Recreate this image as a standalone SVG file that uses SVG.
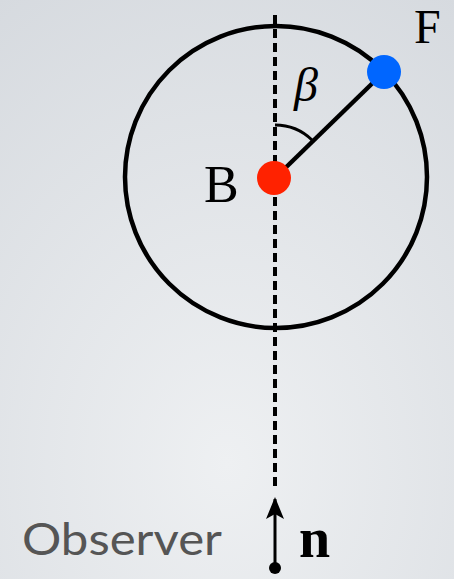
<svg xmlns="http://www.w3.org/2000/svg" width="454" height="579" viewBox="0 0 454 579">
<defs>
<radialGradient id="bg" cx="0.5" cy="0.8" r="0.95">
<stop offset="0" stop-color="#eef0f2"/>
<stop offset="1" stop-color="#d6dadf"/>
</radialGradient>
<marker id="arr" viewBox="0 0 22 18" refX="20" refY="9" markerWidth="22" markerHeight="18" markerUnits="userSpaceOnUse" orient="auto">
<path d="M0,0 L22,9 L0,18 L5,9 Z" fill="#000"/>
</marker>
<style>
.serif{font-family:"Liberation Serif","Times New Roman",serif;fill:#000}
.ln{stroke:#000;fill:none}
</style>
</defs>
<rect width="454" height="579" fill="url(#bg)"/>
<g id="connectors">
<line class="ln" x1="275" y1="15" x2="275" y2="488" stroke-width="4" stroke-dasharray="9,5"/>
<line class="ln" x1="275" y1="566" x2="275" y2="499" stroke-width="3" marker-end="url(#arr)"/>
<line class="ln" x1="275" y1="178" x2="384" y2="72" stroke-width="4.5"/>
<path class="ln" d="M275,125 A53,53 0 0 1 312,140" stroke-width="3"/>
</g>
<g id="circle">
<circle class="ln" cx="276" cy="177" r="151" stroke-width="4.5"/>
</g>
<g id="B">
<circle cx="274" cy="178" r="17" fill="#ff2200"/>
<text class="serif" x="204" y="202" font-size="52">B</text>
</g>
<g id="F">
<circle cx="384" cy="72" r="17" fill="#0066ff"/>
<text class="serif" x="414" y="43" font-size="48">F</text>
</g>
<g id="beta">
<text class="serif" x="294" y="101" font-size="48" font-style="italic">β</text>
</g>
<g id="observer">
<circle cx="275" cy="568" r="6" fill="#000"/>
<text x="22" y="555" font-family="Lato,'Open Sans',sans-serif" font-size="45" fill="#555" textLength="200" lengthAdjust="spacingAndGlyphs">Observer</text>
<text class="serif" x="299" y="557" font-size="56" font-weight="bold">n</text>
</g>
</svg>
